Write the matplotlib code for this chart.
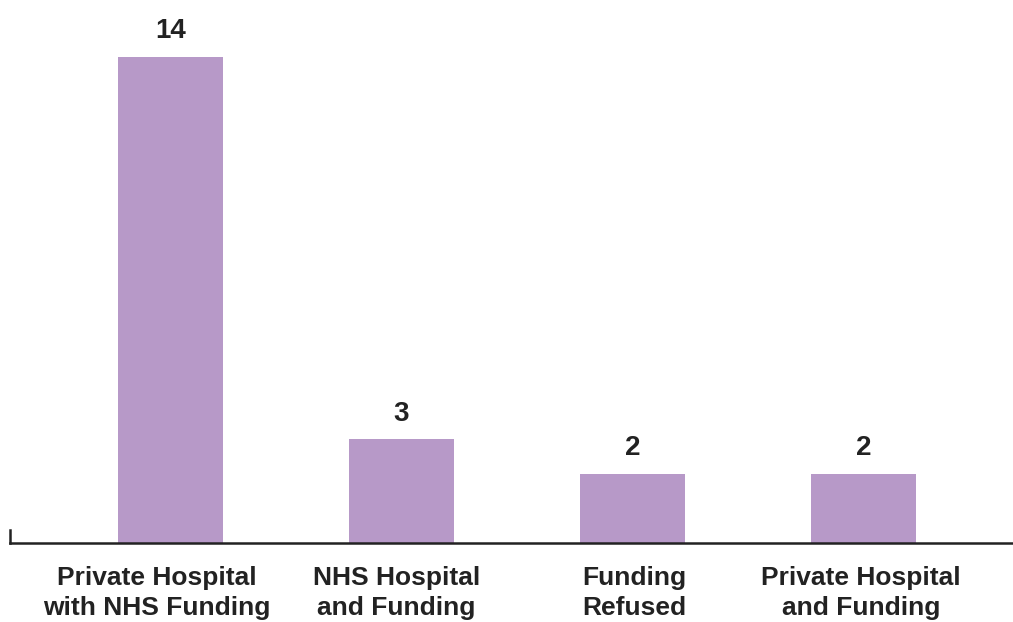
import matplotlib.pyplot as plt

categories = ["Private Hospital\nwith NHS Funding", "NHS Hospital\nand Funding",
              "Funding\nRefused", "Private Hospital\nand Funding"]
counts = [14, 3, 2, 2]

bar_color = "#b799c8"
text_color = "#222222"
# small horizontal nudges of the category labels (points), as in the original
label_shift = [-10, -3.5, 1, -2]

plt.rcParams['font.family'] = ['Liberation Sans', 'DejaVu Sans']

fig = plt.figure(figsize=(10.13, 6.22), dpi=100)
ax = fig.add_axes([10/1013, 79/622, 1 - 10/1013, 543/622])

x = list(range(len(categories)))
bars = ax.bar(x, counts, width=0.455, color=bar_color)

for b, v in zip(bars, counts):
    ax.text(b.get_x() + b.get_width()/2, v + 0.35, str(v), ha='center', va='bottom',
            fontsize=20, fontweight='bold', color=text_color)

for xi, lab, dx in zip(x, categories, label_shift):
    ax.annotate(lab, xy=(xi, 0), xycoords=('data', 'axes fraction'),
                xytext=(dx, -16.5), textcoords='offset points',
                ha='center', va='top', ma='center', fontsize=19, fontweight='bold',
                color=text_color, linespacing=1.3, annotation_clip=False)

ax.set_xlim(-0.695, 3.647)
ax.set_ylim(0, 543/34.75)
ax.set_xticks([])
ax.set_yticks([])

for s in ['top', 'right']:
    ax.spines[s].set_visible(False)
ax.spines['bottom'].set_color(text_color)
ax.spines['bottom'].set_linewidth(1.8)
ax.spines['left'].set_color(text_color)
ax.spines['left'].set_linewidth(1.8)
ax.spines['left'].set_bounds(0, 0.36)

fig.savefig("out.png", dpi=100)
